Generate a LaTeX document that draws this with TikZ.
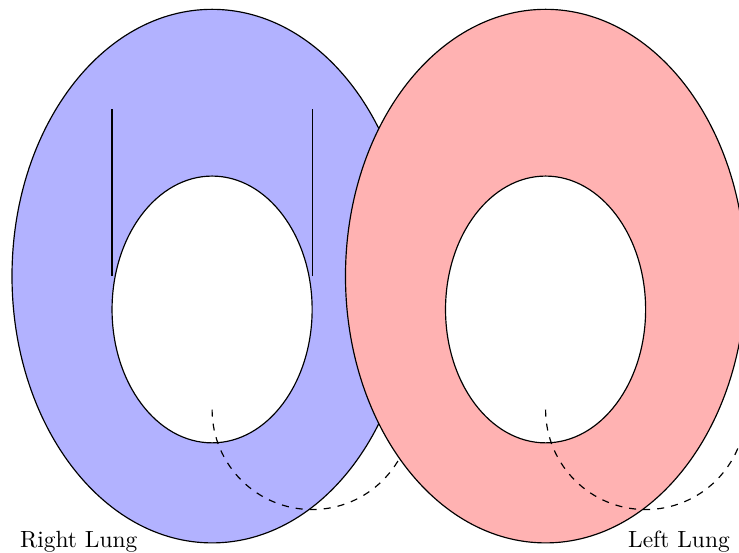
\documentclass[tikz,border=0pt]{standalone}
\begin{document}
\begin{tikzpicture}[
  lungline/.style={draw=black, line width=0.5pt},
  hole/.style={draw=black, fill=white, line width=0.5pt},
  pathdash/.style={dashed, line width=0.5pt}
]
\useasboundingbox (-3.18,-4.15) rectangle (7.9,4.14);
\clip (-3.18,-4.15) rectangle (7.9,4.14);
% right lung (blue)
\draw[lungline, fill=blue!30] (0,0) ellipse (3 and 4);
\draw[hole] (0,-0.5) ellipse (1.5 and 2);
\draw[lungline] (-1.5,0) -- (-1.5,2.5);
\draw[lungline] (1.5,0) -- (1.5,2.5);
\draw[pathdash] (0,-2) arc (180:360:1.5);
% left lung (red)
\draw[lungline, fill=red!30] (5,0) ellipse (3 and 4);
\draw[hole] (5,-0.5) ellipse (1.5 and 2);
\draw[pathdash] (5,-2) arc (180:360:1.5);
% labels
\node (rlabel) at (-2,-3.98) {Right Lung};
\node (llabel) at (7,-3.98) {Left Lung};
\end{tikzpicture}
\end{document}
